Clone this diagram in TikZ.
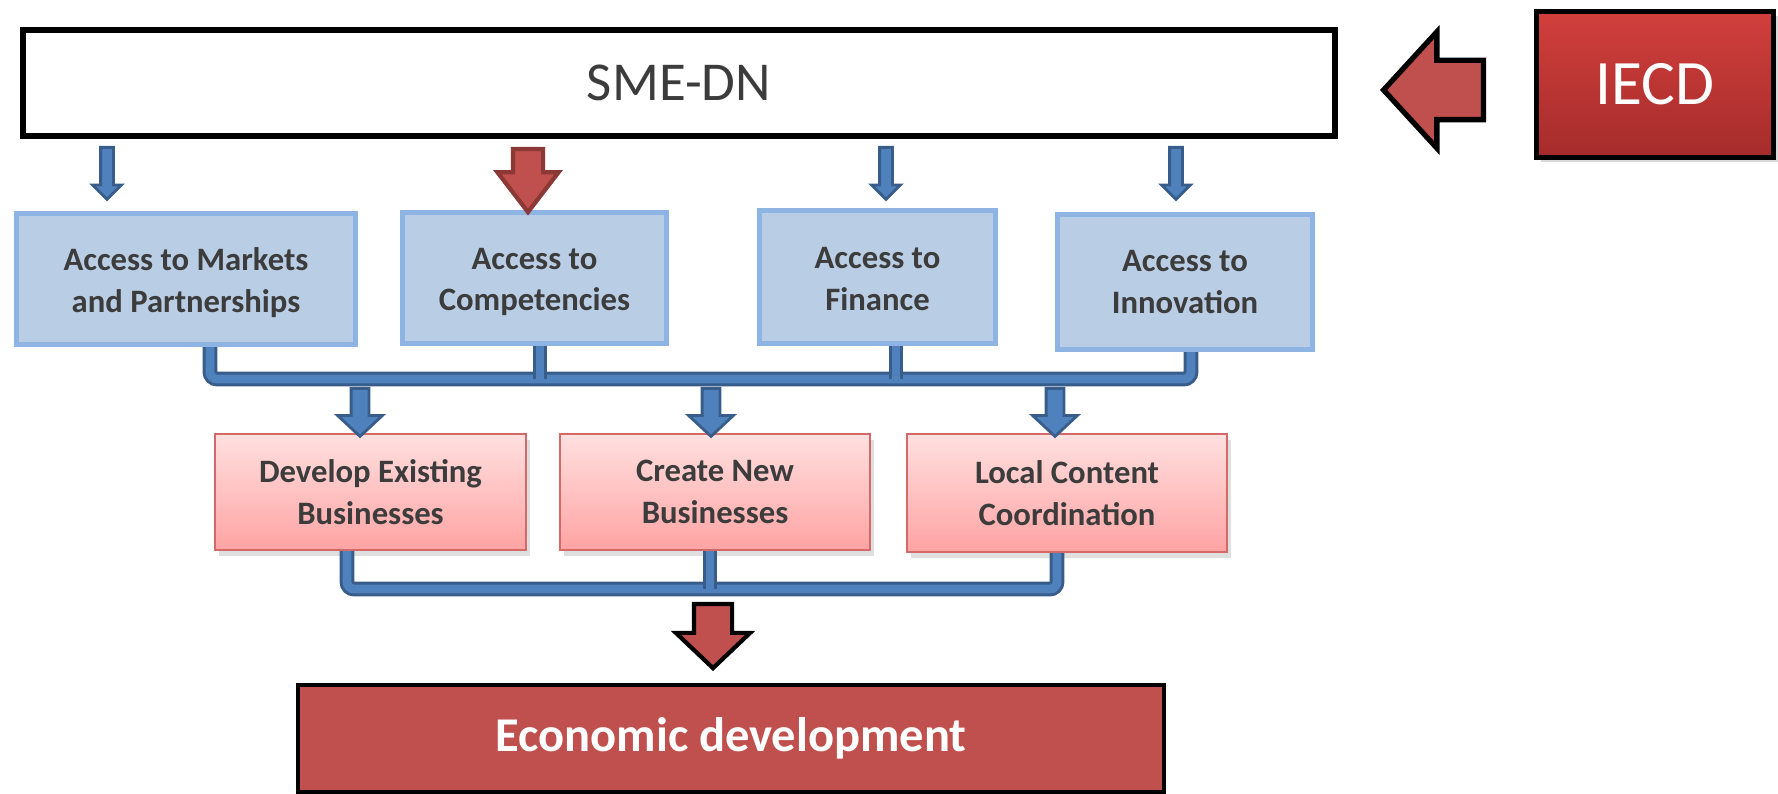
\documentclass[tikz,border=0pt]{standalone}
\usepackage{fontspec}
\setmainfont{Carlito}
\usepackage{tikz}
\usetikzlibrary{shapes.arrows,shadows}

\definecolor{boxblue}{HTML}{B9CDE5}
\definecolor{lineblue}{HTML}{8EB4E3}
\definecolor{arrblue}{HTML}{4F81BD}
\definecolor{darkblue}{HTML}{385D8A}
\definecolor{boxred}{HTML}{C0504D}
\definecolor{darkred}{HTML}{8C3836}
\definecolor{pinktop}{HTML}{FFE0E0}
\definecolor{pinkbot}{HTML}{FFA3A3}
\definecolor{pinkline}{HTML}{D46A68}
\definecolor{iecdtop}{HTML}{D13F3C}
\definecolor{iecdbot}{HTML}{A52C2B}
\definecolor{txtgray}{HTML}{3C3C3C}

\begin{document}
\begin{tikzpicture}[
  bus/.style = {draw=darkblue, line width=0.85pt, double=arrblue,
                double distance=2.5pt, rounded corners=2pt},
  pillar/.style = {rectangle, draw=lineblue, line width=1.5pt, fill=boxblue},
  action/.style = {rectangle, draw=pinkline, line width=0.6pt,
                   top color=pinktop, bottom color=pinkbot,
                   drop shadow={opacity=0.25, shadow xshift=0.04cm, shadow yshift=-0.06cm}},
  boxtext/.style = {font=\bfseries\fontsize{9.3}{11.9}\selectfont, text=txtgray, align=center},
  smallarr/.style = {single arrow, shape border rotate=270, draw=darkblue,
                     fill=arrblue, line width=0.8pt, inner sep=0.05cm,
                     minimum height=0.52cm, minimum width=0.26cm,
                     single arrow head extend=0.08cm, single arrow tip angle=90},
  fatarr/.style = {single arrow, shape border rotate=270, draw=darkblue,
                   fill=arrblue, line width=0.8pt, inner sep=0.075cm,
                   minimum height=0.48cm, minimum width=0.42cm,
                   single arrow head extend=0.135cm, single arrow tip angle=94}
  ]

  \useasboundingbox (0,0) rectangle (17.78,7.94);

  % top row
  \node[rectangle,
        draw,
        line width = 1.6pt,
        fill = white,
        minimum width = 13.12cm,
        minimum height = 1.06cm
        ] (sme) at (6.79,7.11) {};
  \node[font=\fontsize{15.6}{18}\selectfont, text=txtgray] (smelab) at (sme.center) {SME-DN};

  \node[rectangle,
        draw,
        line width = 1.5pt,
        top color = iecdtop,
        bottom color = iecdbot,
        drop shadow = {opacity=0.3, shadow xshift=0.04cm, shadow yshift=-0.05cm},
        minimum width = 2.37cm,
        minimum height = 1.46cm
        ] (iecd) at (16.55,7.095) {};
  \node[font=\fontsize{18}{20}\selectfont, text=white] (iecdlab) at (iecd.center) {IECD};

  \node[single arrow,
        shape border rotate = 180,
        draw,
        line width = 1.5pt,
        fill = boxred,
        inner sep = 0.27cm,
        minimum height = 1.0cm,
        minimum width = 1.11cm,
        single arrow head extend = 0.285cm,
        single arrow tip angle = 95,
        anchor = tip
        ] (feed) at (13.80,7.04) {};

  % pillars
  \node[pillar, minimum width = 3.39cm, minimum height = 1.31cm] (mkt) at (1.86,5.15) {};
  \node[boxtext] (mktlab) at ([yshift=-0.04cm]mkt.center) {Access to Markets\\and Partnerships};

  \node[pillar, minimum width = 2.64cm, minimum height = 1.31cm] (comp) at (5.345,5.16) {};
  \node[boxtext] (complab) at ([yshift=-0.04cm]comp.center) {Access to\\Competencies};

  \node[pillar, minimum width = 2.36cm, minimum height = 1.33cm] (fin) at (8.775,5.17) {};
  \node[boxtext] (finlab) at ([yshift=-0.02cm]fin.center) {Access to\\Finance};

  \node[pillar, minimum width = 2.55cm, minimum height = 1.35cm] (inn) at (11.85,5.12) {};
  \node[boxtext] (innlab) at (inn.center) {Access to\\Innovation};

  \node[smallarr, anchor=tail] (amkt) at (1.07,6.48) {};
  \node[single arrow,
        shape border rotate = 270,
        draw = darkred,
        fill = boxred,
        line width = 1.2pt,
        inner sep = 0.13cm,
        minimum height = 0.63cm,
        minimum width = 0.57cm,
        single arrow head extend = 0.155cm,
        single arrow tip angle = 75,
        anchor = tail
        ] (acomp) at (5.28,6.47) {};
  \node[smallarr, anchor=tail] (afin) at (8.86,6.48) {};
  \node[smallarr, anchor=tail] (ainn) at (11.76,6.48) {};

  % actions
  \node[action, minimum width = 3.11cm, minimum height = 1.16cm] (dev) at (3.705,3.02) {};
  \node[boxtext] (devlab) at (dev.center) {Develop Existing\\Businesses};

  \node[action, minimum width = 3.10cm, minimum height = 1.16cm] (new) at (7.15,3.02) {};
  \node[boxtext] (newlab) at (new.center) {Create New\\Businesses};

  \node[action, minimum width = 3.20cm, minimum height = 1.18cm] (loc) at (10.67,3.01) {};
  \node[boxtext] (loclab) at (loc.center) {Local Content\\Coordination};

  % upper bus
  \coordinate (ul) at (2.10,4.15);
  \coordinate (u2) at (5.40,4.15);
  \coordinate (u3) at (8.96,4.15);
  \coordinate (ur) at (11.91,4.15);
  \draw[bus] (mkt.south -| ul) -- (ul) -- (ur) -- (inn.south -| ur);
  \draw[bus] (comp.south -| u2) -- (u2);
  \draw[bus] (fin.south -| u3) -- (u3);

  \node[fatarr, anchor=tail] (adev) at (3.60,4.07) {};
  \node[fatarr, anchor=tail] (anew) at (7.11,4.07) {};
  \node[fatarr, anchor=tail] (aloc) at (10.55,4.07) {};

  % lower bus
  \coordinate (ll) at (3.47,2.05);
  \coordinate (lm) at (7.10,2.05);
  \coordinate (lr) at (10.57,2.05);
  \draw[bus] (dev.south -| ll) -- (ll) -- (lr) -- (loc.south -| lr);
  \draw[bus] (new.south -| lm) -- (lm);

  \node[single arrow,
        shape border rotate = 270,
        draw,
        fill = boxred,
        line width = 1.2pt,
        inner sep = 0.17cm,
        minimum height = 0.64cm,
        minimum width = 0.70cm,
        single arrow head extend = 0.18cm,
        single arrow tip angle = 93,
        anchor = tail
        ] (aeco) at (7.13,1.92) {};

  \node[rectangle,
        draw,
        line width = 1pt,
        fill = boxred,
        minimum width = 8.66cm,
        minimum height = 1.07cm
        ] (eco) at (7.31,0.555) {};
  \node[font=\bfseries\fontsize{13.8}{16}\selectfont, text=white] (ecolab) at (eco.center) {Economic development};

\end{tikzpicture}
\end{document}
